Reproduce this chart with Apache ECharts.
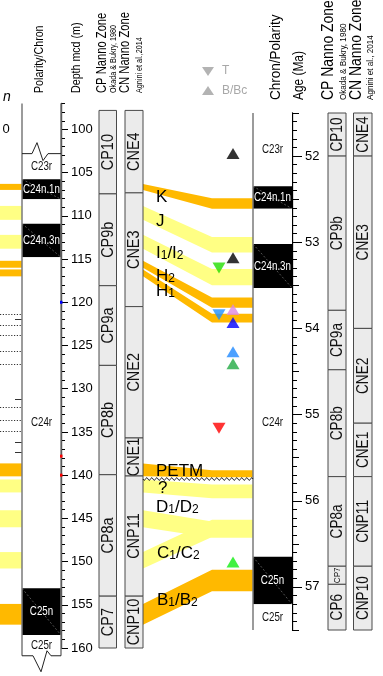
<!DOCTYPE html>
<html>
<head>
<meta charset="utf-8">
<script src="https://cdn.jsdelivr.net/npm/echarts@6/dist/echarts.min.js"></script>
<style>
html,body{margin:0;padding:0;background:#fff;}
#chart{width:383px;height:676px;}
</style>
</head>
<body>
<div id="chart"></div>
<script>
// ---------- depth section (m) ----------
const depthTickLabels = [100,105,110,115,120,125,130,135,140,145,150,155,160];

const depthChronNames  = ['C23r','C24n.1n','','C24n.3n','C24r','C25n','C25r'];
const depthChronTops   = [102.8,105.76,108.07,110.9,114.8,153.1,158.5];
const depthChronBases  = [105.76,108.07,110.9,114.8,153.1,158.5,160.9];
const depthChronNormal = [false,true,false,true,false,true,false];
const depthColumnFrame = [97.0,102.8,160.9];   // open top, break line, broken base

const depthCpZones = ['CP10','CP9b','CP9a','CP8b','CP8a','CP7'];
const depthCpTops  = [97.8,107.46,118.08,127.3,139.95,154.0];
const depthCpBases = [107.46,118.08,127.3,139.95,154.0,160];

const depthCnZones = ['CNE4','CNE3','CNE2','CNE1','CNP11','CNP10'];
const depthCnTops  = [97.8,107.34,120.5,135.7,140.1,154.0];
const depthCnBases = [107.34,120.5,135.7,140.1,154.0,160];

// neighbouring log: dotted levels and short marks
const logDottedDepths = [121.3,122.6,123.8,125.6,127.1,132.1,133.6,134.9];
const logTickDepths   = [121.9,131.2,136.2,137.3];

// coloured marks on the depth axis
const axisMarkDepths = [120.0,137.8,140.0];
const axisMarkColors = ['#0000ff','#ff0000','#ff0000'];

const unconformityDepth = 140.45;

// ---------- age section (Ma) ----------
const ageTickLabels = [52,53,54,55,56,57];
const ageChronNames  = ['C23r','C24n.1n','','C24n.3n','C24r','C25n','C25r'];
const ageChronTops   = [51.5,52.35,52.61,53.02,53.53,56.65,57.2];
const ageChronBases  = [52.35,52.61,53.02,53.53,56.65,57.2,57.5];
const ageChronNormal = [false,true,false,true,false,true,false];

const ageCpZones = ['CP10','CP9b','CP9a','CP8b','CP8a','CP7','CP6'];
const ageCpTops  = [51.5,52.0,53.79,54.48,55.72,56.76,56.97];
const ageCpBases = [52.0,53.79,54.48,55.72,56.76,56.97,57.5];

const ageCnZones = ['CNE4','CNE3','CNE2','CNE1','CNP11','CNP10'];
const ageCnTops  = [51.5,52.0,54.0,55.10,55.72,56.76];
const ageCnBases = [52.0,54.0,55.10,55.72,56.76,57.5];

// ---------- tie levels between depth and age ----------
const tieDepthTops  = [106.3,108.85,112.2,115.2,116.2,138.64,140.5,144.06,148.9,154.9];
const tieDepthBases = [107.0,110.46,113.8,116.0,117.0,140.14,142.0,146.03,150.8,157.3];
const tieAgeTops    = [52.49,52.94,53.31,53.64,53.83,55.646,55.81,56.24,56.22,56.80];
const tieAgeBases   = [52.61,53.12,53.50,53.76,53.93,55.727,55.97,56.43,56.42,57.05];
const tieStrong     = [true,false,false,true,true,true,false,false,false,true];

const tieLabelTexts = ['K','J','I1/I2','H2','H1','PETM','?','D1/D2','C1/C2','B1/B2'];

// ---------- nannofossil datums (age) ----------
const datumAges   = [51.97,53.18,53.30,53.78,53.84,53.93,54.27,54.41,55.16,56.71];
const datumKinds  = ['B','B','T','B','T','B','B','B','T','B'];
const datumColors = ['#000000','#000000','#22dd00','#dd88dd','#1e90ff','#0000ff','#1e88ff','#22aa44','#ff0000','#11ee11'];

// ---------- layout ----------
const FONT = '"Liberation Sans", Arial, Helvetica, sans-serif';
const ORANGE = '#ffb900', YELLOW = '#ffff84';
const LOG = [0, 22];
const POL = [22, 61];
const LCP = [99, 116.5];
const LCN = [125, 143];
const TIE_X = [143, 212, 253];
const CHR = [253, 292];
const RCP = [328, 346];
const RCN = [353.5, 372];
const tieLabelPos = [[156,197],[156,221],[156,253],[156,276],[156,291],[156,471],[158,488],[156,507],[157,553],[157,600]];

const DEPTH_TOP = 103.5, DEPTH_H = 544.5;     // 97 m .. 160 m
const AGE_TOP = 113, AGE_H = 517;             // 51.5 Ma .. 57.5 Ma

const chart = echarts.init(document.getElementById('chart'));

function yAt(api, v) { return api.coord([0, v])[1]; }

function zoneSeries(xi, yi, xs, names, tops, bases, fontSize, scale) {
  return {
    type: 'custom', xAxisIndex: xi, yAxisIndex: yi, silent: true, z: 5,
    data: tops.map((t, i) => [0, t, bases[i]]),
    renderItem(params, api) {
      const i = params.dataIndex;
      const y0 = yAt(api, api.value(1)), y1 = yAt(api, api.value(2));
      const h = y1 - y0;
      const fs = h < 24 ? 9.5 : fontSize;
      return {type: 'group', children: [
        {type: 'rect', shape: {x: xs[0], y: y0, width: xs[1] - xs[0], height: h},
         style: {fill: '#ebebeb', stroke: '#4a4a4a', lineWidth: 1}},
        {type: 'text', x: (xs[0] + xs[1]) / 2 + 0.5, y: (y0 + y1) / 2, rotation: Math.PI / 2, scaleX: scale,
         style: {text: names[i], fontSize: fs, fontFamily: FONT, fill: '#111', align: 'center', verticalAlign: 'middle'}}
      ]};
    }
  };
}

function chronSeries(xi, yi, xs, names, tops, bases, normal) {
  return {
    type: 'custom', xAxisIndex: xi, yAxisIndex: yi, silent: true, z: 4,
    data: tops.map((t, i) => [0, t, bases[i]]),
    renderItem(params, api) {
      const i = params.dataIndex;
      const y0 = yAt(api, api.value(1)), y1 = yAt(api, api.value(2));
      const kids = [];
      if (normal[i]) {
        kids.push({type: 'rect', shape: {x: xs[0], y: y0, width: xs[1] - xs[0], height: y1 - y0}, style: {fill: '#000'}});
        kids.push({type: 'line', shape: {x1: xs[0], y1: y0, x2: xs[1], y2: y1},
                   style: {stroke: '#8a8a8a', lineWidth: 0.6, lineDash: [2, 2]}});
      } else {
        kids.push({type: 'rect', shape: {x: xs[0], y: y0, width: xs[1] - xs[0], height: y1 - y0}, style: {fill: '#fff'}});
      }
      if (names[i]) {
        kids.push({type: 'text', x: (xs[0] + xs[1]) / 2, y: (y0 + y1) / 2, scaleX: 0.75,
          style: {text: names[i], fontSize: 13, fontFamily: FONT, fill: normal[i] ? '#fff' : '#111',
                  align: 'center', verticalAlign: 'middle'}});
      }
      return {type: 'group', children: kids};
    }
  };
}

function vText(text, x, yStart, fontSize, scale, color) {
  return {type: 'text', x: x, y: yStart, rotation: Math.PI / 2, scaleX: scale, silent: true, z: 20,
    style: {text: text, fontSize: fontSize, fontFamily: FONT, fill: color || '#000',
            align: 'left', verticalAlign: 'middle', textAlign: 'left', textVerticalAlign: 'middle'}};
}

function richLabel(str) {
  return '{m|' + str.replace(/(\d)/g, '}{s|$1}{m|') + '}';
}

const graphics = [
  // left headers
  vText('Polarity/Chron', 39, 93, 13, 0.82),
  vText('Depth mcd (m)', 76, 93, 13, 0.82),
  vText('CP Nanno Zone', 102, 93, 14, 0.8),
  vText('Okada & Bukry, 1980', 114, 93, 8.5, 0.85),
  vText('CN Nanno Zone', 125, 93, 14, 0.8),
  vText('Agnini et al.,2014', 140, 93, 8.5, 0.85),
  // right headers
  vText('Chron/Polarity', 276, 100, 15, 0.9),
  vText('Age (Ma)', 299, 100, 14, 0.85),
  vText('CP Nanno Zone', 329, 100, 16, 0.87),
  vText('Okada & Bukry, 1980', 344, 100, 9, 0.9),
  vText('CN Nanno Zone', 357, 100, 16, 0.87),
  vText('Agnini et al., 2014', 371, 100, 9, 0.9),
  // neighbouring log remnants
  {type: 'text', x: 7, y: 97, silent: true,
   style: {text: 'n', fontSize: 14, fontStyle: 'italic', fontFamily: FONT, fill: '#000', align: 'center', verticalAlign: 'middle'}},
  {type: 'text', x: 6, y: 129, silent: true,
   style: {text: '0', fontSize: 13, fontFamily: FONT, fill: '#000', align: 'center', verticalAlign: 'middle'}},
  // legend
  {type: 'polygon', silent: true, shape: {points: [[202, 67], [214, 67], [208, 76]]}, style: {fill: '#b3b3b3'}},
  {type: 'polygon', silent: true, shape: {points: [[202, 95], [214, 95], [208, 86]]}, style: {fill: '#b3b3b3'}},
  {type: 'text', x: 222, y: 71, silent: true,
   style: {text: 'T', fontSize: 12, fontFamily: FONT, fill: '#a8a8a8', align: 'left', verticalAlign: 'middle'}},
  {type: 'text', x: 222, y: 91, silent: true,
   style: {text: 'B/Bc', fontSize: 12, fontFamily: FONT, fill: '#a8a8a8', align: 'left', verticalAlign: 'middle'}}
];

tieLabelTexts.forEach((t, i) => {
  graphics.push({type: 'text', x: tieLabelPos[i][0], y: tieLabelPos[i][1], silent: true, z: 30,
    style: {text: richLabel(t), align: 'left', verticalAlign: 'middle',
      rich: {m: {fontSize: 17, fontFamily: FONT, fill: '#000', lineHeight: 18},
             s: {fontSize: 12, fontFamily: FONT, fill: '#000', lineHeight: 6, verticalAlign: 'bottom'}}}});
});

const option = {
  animation: false,
  backgroundColor: '#fff',
  grid: [
    {left: 61, top: DEPTH_TOP, width: 150, height: DEPTH_H},
    {left: 292, top: AGE_TOP, width: 80, height: AGE_H},
    {left: 212, top: AGE_TOP, width: 28, height: AGE_H},
    {left: 292, top: AGE_TOP + AGE_H * 0.5 / 6, width: 80, height: AGE_H * 5 / 6},
    {left: 61, top: DEPTH_TOP + DEPTH_H * 3 / 63, width: 150, height: DEPTH_H * 60 / 63}
  ],
  xAxis: [
    {gridIndex: 0, type: 'value', min: 0, max: 1, show: false},
    {gridIndex: 1, type: 'value', min: 0, max: 1, show: false},
    {gridIndex: 2, type: 'category', data: ['T', 'B'], show: false, boundaryGap: true},
    {gridIndex: 3, type: 'value', min: 0, max: 1, show: false},
    {gridIndex: 4, type: 'value', min: 0, max: 1, show: false}
  ],
  yAxis: [
    // depth, metre ticks
    {gridIndex: 0, type: 'value', inverse: true, min: 97, max: 160, interval: 1, position: 'left',
     axisLine: {show: true, onZero: false, lineStyle: {color: '#000', width: 1.3}},
     axisTick: {show: true, inside: true, length: 4, lineStyle: {color: '#000', width: 1}},
     axisLabel: {show: false}, splitLine: {show: false}},
    // age, half-Ma and 0.1-Ma ticks
    {gridIndex: 1, type: 'value', inverse: true, min: 51.5, max: 57.5, interval: 0.5, position: 'left',
     axisLine: {show: true, onZero: false, lineStyle: {color: '#000', width: 1.3}},
     axisTick: {show: true, inside: true, length: 7, lineStyle: {color: '#000', width: 1}},
     minorTick: {show: true, splitNumber: 5, length: 5, lineStyle: {color: '#000', width: 1}},
     axisLabel: {show: false}, splitLine: {show: false}, minorSplitLine: {show: false}},
    {gridIndex: 2, type: 'value', inverse: true, min: 51.5, max: 57.5, show: false},
    // age, whole-Ma ticks and labels
    {gridIndex: 3, type: 'value', inverse: true, min: 52, max: 57, interval: 1, position: 'left',
     axisLine: {show: false, onZero: false},
     axisTick: {show: true, inside: true, length: 10, lineStyle: {color: '#000', width: 1}},
     axisLabel: {show: true, inside: true, margin: 13, fontSize: 13, fontFamily: FONT, color: '#000',
                 formatter: v => ageTickLabels.indexOf(v) >= 0 ? String(v) : ''},
     splitLine: {show: false}},
    // depth, 5 m ticks and labels
    {gridIndex: 4, type: 'value', inverse: true, min: 100, max: 160, interval: 5, position: 'left',
     axisLine: {show: false, onZero: false},
     axisTick: {show: true, inside: true, length: 7, lineStyle: {color: '#000', width: 1}},
     axisLabel: {show: true, inside: true, margin: 10, fontSize: 13, fontFamily: FONT, color: '#000',
                 formatter: v => depthTickLabels.indexOf(v) >= 0 ? String(v) : ''},
     splitLine: {show: false}}
  ],
  graphic: {elements: graphics},
  series: [
    // tie bands (age side resolved after first layout)
    {id: 'ties', type: 'custom', xAxisIndex: 0, yAxisIndex: 0, silent: true, z: 1, data: [],
     renderItem(params, api) {
       const i = params.dataIndex;
       const yl0 = yAt(api, api.value(1)), yl1 = yAt(api, api.value(2));
       const yr0 = chart.convertToPixel({yAxisIndex: 1}, api.value(3));
       const yr1 = chart.convertToPixel({yAxisIndex: 1}, api.value(4));
       const fill = tieStrong[i] ? ORANGE : YELLOW;
       return {type: 'group', children: [
         {type: 'rect', shape: {x: LOG[0], y: yl0, width: LOG[1] - LOG[0], height: yl1 - yl0}, style: {fill: fill}},
         {type: 'polygon', shape: {points: [[TIE_X[0], yl0], [TIE_X[1], yr0], [TIE_X[2], yr0],
                                            [TIE_X[2], yr1], [TIE_X[1], yr1], [TIE_X[0], yl1]]}, style: {fill: fill}}
       ]};
     }},
    // neighbouring log markings
    {type: 'custom', xAxisIndex: 0, yAxisIndex: 0, silent: true, z: 2,
     data: logDottedDepths.map(d => [0, d]),
     renderItem(params, api) {
       const y = Math.round(yAt(api, api.value(1))) + 0.5;
       return {type: 'line', shape: {x1: 0, y1: y, x2: LOG[1], y2: y},
               style: {stroke: '#333', lineWidth: 1, lineDash: [1.2, 1.6]}};
     }},
    {type: 'custom', xAxisIndex: 0, yAxisIndex: 0, silent: true, z: 2,
     data: logTickDepths.map(d => [0, d]),
     renderItem(params, api) {
       const y = Math.round(yAt(api, api.value(1))) + 0.5;
       return {type: 'line', shape: {x1: 15, y1: y, x2: LOG[1], y2: y}, style: {stroke: '#333', lineWidth: 1}};
     }},
    // polarity column (depth)
    chronSeries(0, 0, POL, depthChronNames, depthChronTops, depthChronBases, depthChronNormal),
    {type: 'custom', xAxisIndex: 0, yAxisIndex: 0, silent: true, z: 6,
     data: [[0].concat(depthColumnFrame)],
     renderItem(params, api) {
       const yTop = yAt(api, api.value(1)), yBrk = yAt(api, api.value(2)), yBot = yAt(api, api.value(3));
       const a = POL[0], b = POL[1];
       return {type: 'group', children: [
         {type: 'line', shape: {x1: a, y1: yTop, x2: a, y2: yBot}, style: {stroke: '#7a7a7a', lineWidth: 1.5}},
         {type: 'line', shape: {x1: b, y1: yTop, x2: b, y2: yBot}, style: {stroke: '#7a7a7a', lineWidth: 1.5}},
         {type: 'polyline', shape: {points: [[a, yBrk], [32, yBrk], [37, yBrk - 11], [43, yBrk + 7], [48, yBrk], [b, yBrk]]},
          style: {stroke: '#222', lineWidth: 1, fill: 'none'}},
         {type: 'polyline', shape: {points: [[a, yBot], [33, yBot], [41, yBot + 16], [47, yBot - 5], [51, yBot], [b, yBot]]},
          style: {stroke: '#222', lineWidth: 1, fill: 'none'}}
       ]};
     }},
    // coloured marks on the depth axis
    {type: 'custom', xAxisIndex: 0, yAxisIndex: 0, silent: true, z: 8,
     data: axisMarkDepths.map(d => [0, d]),
     renderItem(params, api) {
       const y = yAt(api, api.value(1));
       return {type: 'rect', shape: {x: 60, y: y - 1.5, width: 2.5, height: 3}, style: {fill: axisMarkColors[params.dataIndex]}};
     }},
    // nannofossil zones beside depth
    zoneSeries(0, 0, LCP, depthCpZones, depthCpTops, depthCpBases, 17, 0.85),
    zoneSeries(0, 0, LCN, depthCnZones, depthCnTops, depthCnBases, 17, 0.85),
    // unconformity
    {type: 'custom', xAxisIndex: 0, yAxisIndex: 0, silent: true, z: 7,
     data: [[0, unconformityDepth]],
     renderItem(params, api) {
       const y = yAt(api, api.value(1));
       const pts = [];
       for (let x = TIE_X[0]; x <= TIE_X[2]; x += 0.5) {
         pts.push([x, y + 1.3 * Math.sin((x - TIE_X[0]) / 5 * 2 * Math.PI)]);
       }
       return {type: 'polyline', shape: {points: pts}, style: {stroke: '#000', lineWidth: 0.9, fill: 'none'}};
     }},
    // chron column (age)
    chronSeries(1, 1, CHR, ageChronNames, ageChronTops, ageChronBases, ageChronNormal),
    {type: 'custom', xAxisIndex: 1, yAxisIndex: 1, silent: true, z: 6,
     data: [[0, 51.5, 57.5]],
     renderItem(params, api) {
       const y0 = yAt(api, api.value(1)), y1 = yAt(api, api.value(2));
       return {type: 'line', shape: {x1: CHR[0], y1: y0, x2: CHR[0], y2: y1}, style: {stroke: '#7a7a7a', lineWidth: 1.5}};
     }},
    zoneSeries(1, 1, RCP, ageCpZones, ageCpTops, ageCpBases, 16, 0.85),
    zoneSeries(1, 1, RCN, ageCnZones, ageCnTops, ageCnBases, 16, 0.85),
    // datums
    {type: 'scatter', xAxisIndex: 2, yAxisIndex: 2, silent: true, z: 10,
     symbol: 'triangle', symbolSize: [13, 11], symbolRotate: 180,
     data: datumAges.map((a, i) => ({k: datumKinds[i], value: ['T', a], itemStyle: {color: datumColors[i]}}))
       .filter(d => d.k === 'T').map(d => ({value: d.value, itemStyle: d.itemStyle}))},
    {type: 'scatter', xAxisIndex: 2, yAxisIndex: 2, silent: true, z: 10,
     symbol: 'triangle', symbolSize: [13, 11],
     data: datumAges.map((a, i) => ({k: datumKinds[i], value: ['B', a], itemStyle: {color: datumColors[i]}}))
       .filter(d => d.k === 'B').map(d => ({value: d.value, itemStyle: d.itemStyle}))}
  ]
};

chart.setOption(option);
chart.setOption({series: [{id: 'ties',
  data: tieDepthTops.map((d, i) => [0, d, tieDepthBases[i], tieAgeTops[i], tieAgeBases[i]])}]});
</script>
</body>
</html>
